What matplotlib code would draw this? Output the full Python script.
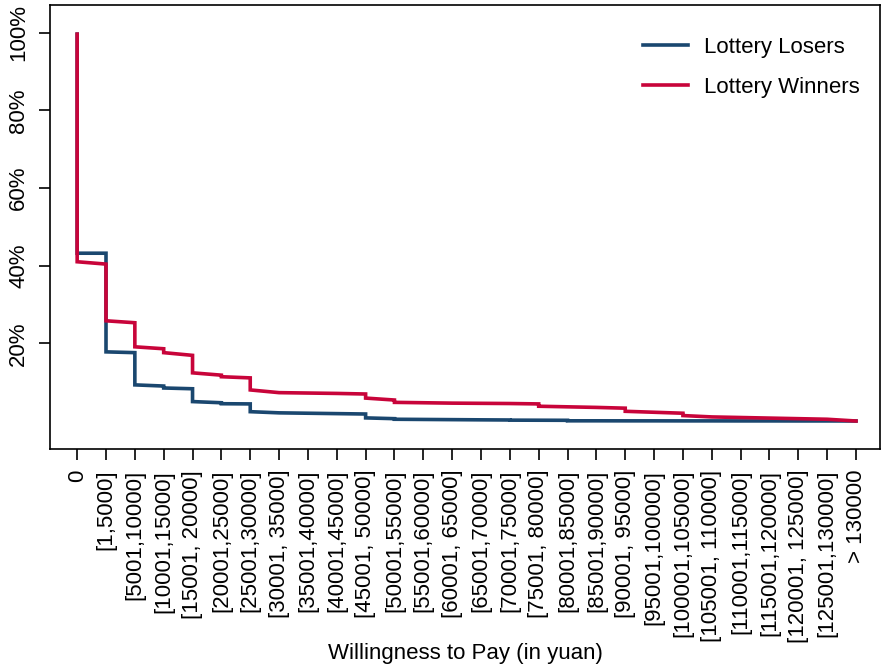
import numpy as np
import matplotlib
matplotlib.use('Agg')
import matplotlib.pyplot as plt

plt.rcParams['font.family'] = ['Liberation Sans', 'DejaVu Sans']

# category labels on the x axis
tickLabels = ['0', '[1,5000]', '[5001,10000]', '[10001,15000]', '[15001, 20000]',
              '[20001,25000]', '[25001,30000]', '[30001, 35000]', '[35001,40000]',
              '[40001,45000]', '[45001, 50000]', '[50001,55000]', '[55001,60000]',
              '[60001, 65000]', '[65001,70000]', '[70001,75000]', '[75001, 80000]',
              '[80001,85000]', '[85001,90000]', '[90001, 95000]', '[95001,100000]',
              '[100001,105000]', '[105001, 110000]', '[110001,115000]', '[115001,120000]',
              '[120001, 125000]', '[125001,130000]', '> 130000']

startShare = 99.6  # share at 0 before the first drop

# share (%) at start and end of each interval between ticks i and i+1
losersStart = [43.2, 17.8, 9.3, 8.5, 5.0, 4.45, 2.4, 2.1, 2.0, 1.9, 0.8, 0.45, 0.4,
               0.35, 0.3, 0.22, 0.2, 0.05, 0.05, 0.04, 0.04, 0.03, 0.03, 0.02, 0.02,
               0.01, 0.01]
losersEnd = [43.2, 17.6, 9.0, 8.3, 4.7, 4.4, 2.1, 2.0, 1.9, 1.8, 0.6, 0.4, 0.35,
             0.3, 0.26, 0.2, 0.18, 0.05, 0.04, 0.04, 0.03, 0.03, 0.02, 0.02, 0.01,
             0.01, 0.0]
winnersStart = [41.0, 25.8, 19.1, 17.6, 12.4, 11.4, 8.0, 7.3, 7.2, 7.1, 5.9, 4.8, 4.7,
                4.6, 4.55, 4.5, 3.8, 3.65, 3.5, 2.5, 2.25, 1.4, 1.05, 0.9, 0.75,
                0.6, 0.45]
winnersEnd = [40.4, 25.3, 18.6, 16.9, 11.8, 11.1, 7.3, 7.2, 7.1, 6.95, 5.4, 4.7, 4.6,
              4.55, 4.5, 4.4, 3.65, 3.5, 3.3, 2.25, 2.0, 1.05, 0.9, 0.75, 0.6,
              0.45, 0.0]


def stepPath(top, starts, ends):
    xs = [0]
    ys = [top]
    for i in range(len(starts)):
        xs += [i, i + 1]
        ys += [starts[i], ends[i]]
    return xs, ys


fig = plt.figure(figsize=(8.81, 6.70), dpi=100)
ax = fig.add_axes([0.0568, 0.3299, 0.942, 0.6626])

xb, yb = stepPath(startShare, losersStart, losersEnd)
xr, yr = stepPath(startShare, winnersStart, winnersEnd)
ax.plot(xb, yb, color='#1a476f', lw=2.6, label='Lottery Losers', solid_joinstyle='miter')
ax.plot(xr, yr, color='#c8043a', lw=2.6, label='Lottery Winners', solid_joinstyle='miter')

ax.set_xlim(-0.94, 27.83)
ax.set_ylim(-7.2, 107.1)

ax.set_xticks(range(len(tickLabels)))
ax.set_xticklabels(tickLabels, rotation=90, fontsize=16)
ax.set_yticks([20, 40, 60, 80, 100])
ax.set_yticklabels(['20%', '40%', '60%', '80%', '100%'], rotation=90, va='center', fontsize=16)
ax.tick_params(axis='both', direction='out', length=8, width=1.2, color='black', pad=7)

for s in ax.spines.values():
    s.set_linewidth(1.2)

ax.set_xlabel('Willingness to Pay (in yuan)', fontsize=16)
ax.xaxis.set_label_coords(0.5, -0.437)

ax.legend(loc='upper right', bbox_to_anchor=(0.9867, 0.948), borderaxespad=0,
          frameon=False, fontsize=16, handlelength=2.0,
          handletextpad=0.75, labelspacing=0.85)

fig.savefig('out.png', dpi=100)
